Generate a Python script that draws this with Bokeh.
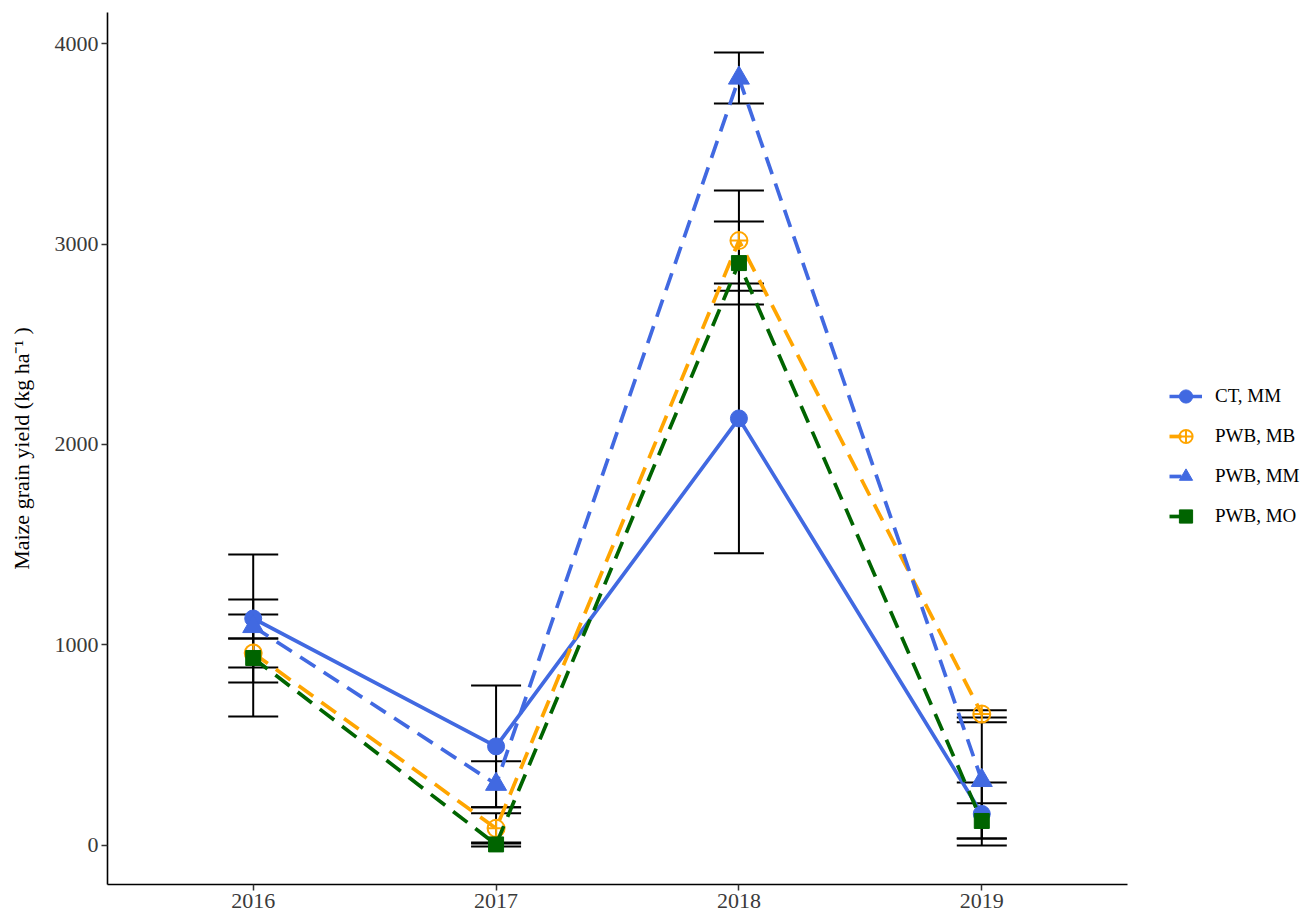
from bokeh.plotting import figure
from bokeh.layouts import row
from bokeh.models import ColumnDataSource, Whisker, TeeHead, Legend, LegendItem, FixedTicker, Range1d
from bokeh.embed import file_html
from bokeh.resources import INLINE

years = [2016, 2017, 2018, 2019]
series_names = ["CT, MM", "PWB, MB", "PWB, MM", "PWB, MO"]
ct_mm = [1132, 494, 2130, 157]
ct_mm_se = [319, 304, 673, 157]
pwb_mb = [960, 85, 3017, 656]
pwb_mb_se = [72, 75, 250, 18]
pwb_mm = [1092, 305, 3828, 324]
pwb_mm_se = [60, 115, 127, 290]
pwb_mo = [935, 5, 2905, 122]
pwb_mo_se = [292, 10, 207, 88]
y_ticks = [0, 1000, 2000, 3000, 4000]

colors = ["#4169E1", "#FFA500", "#4169E1", "#006400"]
dashes = ["solid", "18 10", "18 10", "18 10"]
key_dashes = ["solid", "12 40", "12 40", "12 40"]
markers = ["circle", "circle_cross", "triangle", "square"]
sizes = [17, 17, 21, 15]
fills = [True, False, True, True]

FONT = "Liberation Serif"

p = figure(width=1132, height=913, output_backend="svg", toolbar_location=None,
           x_range=Range1d(2015.4, 2019.6), y_range=Range1d(-195, 4155),
           min_border_left=107, min_border_right=5, min_border_top=12, min_border_bottom=29)
p.xgrid.visible = False
p.ygrid.visible = False
p.outline_line_color = None
p.background_fill_color = "white"
p.border_fill_color = "white"

for ax in (p.xaxis[0], p.yaxis[0]):
    ax.axis_line_width = 1.6
    ax.axis_line_color = "black"
    ax.major_tick_line_color = "#333333"
    ax.major_tick_line_width = 1.5
    ax.major_tick_out = 6
    ax.major_tick_in = 0
    ax.minor_tick_line_color = None
    ax.major_label_text_font = FONT
    ax.major_label_text_font_size = "22px"
    ax.major_label_text_color = "#3a3a3a"
    ax.major_label_standoff = 3

p.xaxis.ticker = FixedTicker(ticks=years)
p.yaxis.ticker = FixedTicker(ticks=y_ticks)
p.yaxis.axis_label = "Maize grain yield (kg ha\u207b\u00b9 )"
p.yaxis.axis_label_text_font = FONT
p.yaxis.axis_label_text_font_size = "22px"
p.yaxis.axis_label_text_font_style = "normal"
p.yaxis.axis_label_text_color = "black"
p.yaxis.axis_label_standoff = 18

# legend-only figure to the right
lp = figure(width=170, height=913, output_backend="svg", toolbar_location=None,
            x_range=Range1d(0, 1), y_range=Range1d(0, 1),
            x_axis_location=None, y_axis_location=None,
            min_border_left=0, min_border_right=0, min_border_top=0, min_border_bottom=0)
lp.xgrid.visible = False
lp.ygrid.visible = False
lp.outline_line_color = None
lp.background_fill_color = "white"
lp.border_fill_color = "white"

all_vals = [ct_mm, pwb_mb, pwb_mm, pwb_mo]
all_se = [ct_mm_se, pwb_mb_se, pwb_mm_se, pwb_mo_se]

items = []
for name, vals, se, c, d, kd, m, s, f in zip(series_names, all_vals, all_se, colors, dashes,
                                             key_dashes, markers, sizes, fills):
    src = ColumnDataSource(dict(x=years, y=vals,
                                lo=[v - e for v, e in zip(vals, se)],
                                hi=[v + e for v, e in zip(vals, se)]))
    p.line("x", "y", source=src, line_color=c, line_width=3.7, line_dash=d)
    p.scatter("x", "y", source=src, marker=m, size=s,
              fill_color=c if f else None, line_color=c,
              line_width=2 if not f else 1)
    w = Whisker(base="x", lower="lo", upper="hi", source=src, line_color="black", line_width=2,
                upper_head=TeeHead(size=50, line_color="black", line_width=2),
                lower_head=TeeHead(size=50, line_color="black", line_width=2))
    p.add_layout(w)

    # off-screen proxy renderers for the legend keys
    proxy = ColumnDataSource(dict(x=[-10, -9], y=[-10, -10]))
    lln = lp.line("x", "y", source=proxy, line_color=c, line_width=3.7, line_dash=kd)
    lsc = lp.scatter("x", "y", source=proxy, marker=m, size=s,
                     fill_color=c if f else None, line_color=c,
                     line_width=2 if not f else 1)
    items.append(LegendItem(label=name, renderers=[lln, lsc]))

legend = Legend(items=items, location=(37, 348), orientation="vertical",
                glyph_width=33, glyph_height=40, label_height=20, spacing=0, padding=0, margin=0,
                label_text_font=FONT, label_text_font_size="19px", label_standoff=13,
                label_text_color="black",
                border_line_color=None, background_fill_alpha=0)
lp.add_layout(legend, "center")

layout = row(p, lp)
open("out.html", "w").write(file_html(layout, INLINE))
